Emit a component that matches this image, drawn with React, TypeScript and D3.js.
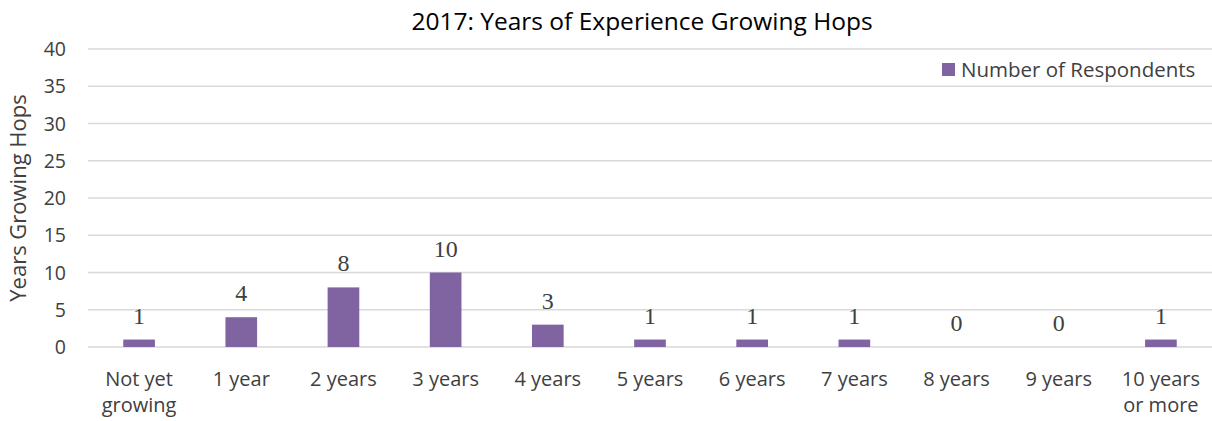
import React from "react";
import * as d3 from "d3";

const categories = ["Not yet|growing", "1 year", "2 years", "3 years", "4 years", "5 years", "6 years", "7 years", "8 years", "9 years", "10 years|or more"];
const values = [1, 4, 8, 10, 3, 1, 1, 1, 0, 0, 1];
const yTicks = [0, 5, 10, 15, 20, 25, 30, 35, 40];
const title = "2017: Years of Experience Growing Hops";
const seriesName = "Number of Respondents";
const yTitle = "Years Growing Hops";

const W = 1212, H = 421;
const left = 88, right = 1212, top = 49, bottom = 347;
const color = "#8064a2";
const font = "'Open Sans', sans-serif";
const textColor = "#404040";

export default function App() {
  const x = d3.scaleBand<string>().domain(categories).range([left, right]).paddingInner(0.69).paddingOuter(0.345);
  const y = d3.scaleLinear().domain([0, 40]).range([bottom, top]);
  return (
    <svg width={W} height={H} style={{ position: "absolute", left: 0, top: 0, background: "#fff" }}>
      <text x={642} y={30} textAnchor="middle" fontFamily={font} fontSize={24.5} fill="#000">{title}</text>
      {yTicks.map(t => (
        <g key={t}>
          <line x1={left} x2={right} y1={y(t)} y2={y(t)} stroke="#d9d9d9" strokeWidth={1.5} />
          <text x={66} y={y(t) + 7} textAnchor="end" fontFamily={font} fontSize={19.5} fill={textColor}>{t}</text>
        </g>
      ))}
      <text transform={`translate(26,${(top + bottom) / 2}) rotate(-90)`} textAnchor="middle" fontFamily={font} fontSize={22} fill={textColor}>{yTitle}</text>
      {categories.map((c, i) => {
        const bx = x(c)!;
        const bw = x.bandwidth();
        const cx = bx + bw / 2;
        const v = values[i];
        return (
          <g key={c}>
            {v > 0 && <rect x={bx} y={y(v)} width={bw} height={bottom - y(v)} fill={color} />}
            <text x={cx} y={y(v) - 16} textAnchor="middle" fontFamily="'Liberation Serif', serif" fontSize={24} fill={textColor}>{v}</text>
            {c.split("|").map((line, j) => (
              <text key={j} x={cx} y={386 + j * 26} textAnchor="middle" fontFamily={font} fontSize={20} fill={textColor}>{line}</text>
            ))}
          </g>
        );
      })}
      <rect x={942} y={63} width={13} height={13} fill={color} />
      <text x={961} y={77} fontFamily={font} fontSize={20.5} fill={textColor}>{seriesName}</text>
    </svg>
  );
}
